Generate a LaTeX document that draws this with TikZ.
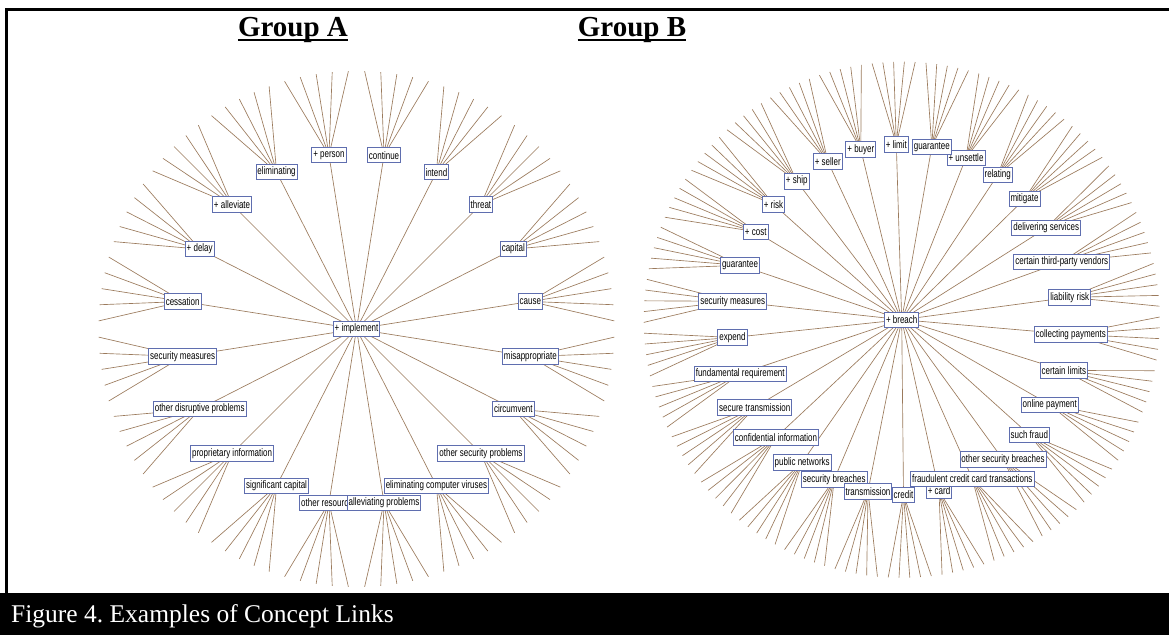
\documentclass[tikz,border=0pt]{standalone}
\usepackage{fontspec}
\setmainfont{Liberation Serif}
\newfontfamily\nodefont[FakeStretch=0.74]{Liberation Sans}
\usetikzlibrary{calc}
\pgfdeclarelayer{bg}
\pgfdeclarelayer{edges}
\pgfsetlayers{bg,edges,main}
\definecolor{edgecol}{RGB}{155,122,92}
\definecolor{boxcol}{RGB}{95,110,175}
\frenchspacing
\begin{document}
\begin{tikzpicture}[x=1pt,y=-1pt,
  concept/.style={draw=boxcol, line width=0.9pt, fill=white, inner xsep=1.5pt, inner ysep=0pt,
    minimum height=15.5pt, font=\nodefont\fontsize{10.8}{11}\selectfont, text=black},
  link/.style={draw=edgecol, line width=0.65pt},
  heading/.style={font=\bfseries\fontsize{29}{30}\selectfont, anchor=base, inner sep=0pt}]
\useasboundingbox (0,0) rectangle (1169,635);
\begin{pgfonlayer}{bg}
\fill[white] (0,0) rectangle (1169,635);
\end{pgfonlayer}
% frame and caption bar
\fill[black] (5,8) rectangle (1169,10.5);
\fill[black] (5,8) rectangle (7.5,594);
\fill[black] (0,593) rectangle (1169,635);
\node[anchor=base west, text=white, font=\fontsize{25.5}{26}\selectfont, inner sep=0pt] (caption) at (11,622) {Figure 4. Examples of Concept Links};
% headings
\node[heading] (ga) at (293,36) {Group A};
\draw[line width=2pt] ([yshift=-4pt]ga.base west) -- ([yshift=-4pt]ga.base east);
\node[heading] (gb) at (632,36) {Group B};
\draw[line width=2pt] ([yshift=-4pt]gb.base west) -- ([yshift=-4pt]gb.base east);
% ---------------- Group A ----------------
\node[concept] (impl) at (356.5,329) {+ implement};
\foreach \k/\t in {19/{+ person},18/eliminating,17/{+ alleviate},16/{+ delay},15/cessation,
  14/security measures,13/other disruptive problems,12/proprietary information,
  11/significant capital,10/other resources,9/alleviating problems,
  8/eliminating computer viruses,7/other security problems,6/circumvent,
  5/misappropriate,4/cause,3/capital,2/threat,1/intend,0/continue}{
  \pgfmathsetmacro\ang{9+18*\k}
  \node[concept] (a\k) at ({356.5+176*sin(\ang)},{329-176*cos(\ang)}) {\t};
  \begin{pgfonlayer}{edges}
    \draw[link] (impl.center) -- (a\k.center);
    \foreach \j in {-2,...,2}{
      \coordinate (aL\k n\j) at ({356.5+258*sin(\ang+3.6*\j)},{329-258*cos(\ang+3.6*\j)});
      \draw[link] (a\k.center) -- (aL\k n\j);
    }
  \end{pgfonlayer}
}
% ---------------- Group B ----------------
\node[concept] (breach) at (901.7,319.7) {+ breach};
\foreach \k/\x/\y/\t in {29/860.8/149.3/{+ buyer},28/827.8/161.5/{+ seller},27/796.7/181.2/{+ ship},
  26/773.5/204.3/{+ risk},25/755.7/231.7/{+ cost},24/740/265.3/guarantee,
  23/732.7/301.3/security measures,22/732.5/337.5/expend,21/740.2/373.7/fundamental requirement,
  20/754.7/407.3/secure transmission,19/776/437.3/confidential information,
  18/802.2/462.3/public networks,17/834.2/479.5/security breaches,16/868/491.2/transmission,
  15/903.5/494.7/credit,14/939/490.8/{+ card},13/972.3/478.7/fraudulent credit card transactions,
  12/1003/459.5/other security breaches,11/1029.3/434.7/such fraud,10/1049.7/404.7/online payment,
  9/1063.8/370.5/certain limits,8/1070.7/334.3/collecting payments,7/1069.7/297.3/liability risk,
  6/1061.8/262/certain third-party vendors,5/1046.3/228/delivering services,4/1024.5/199/mitigate,
  3/997.7/175/relating,2/966/157.7/{+ unsettle},1/931.8/146.7/guarantee,0/896.3/144.3/{+ limit}}{
  \pgfmathsetmacro\ang{-1.8+12*\k}
  \node[concept] (b\k) at (\x,\y) {\t};
  \begin{pgfonlayer}{edges}
    \draw[link] (breach.center) -- (b\k.center);
    \foreach \j in {-2,...,2}{
      \coordinate (bL\k n\j) at ({901.7+258*sin(\ang+2.4*\j)},{319.7-258*cos(\ang+2.4*\j)});
      \draw[link] (b\k.center) -- (bL\k n\j);
    }
  \end{pgfonlayer}
}
\end{tikzpicture}
\end{document}
